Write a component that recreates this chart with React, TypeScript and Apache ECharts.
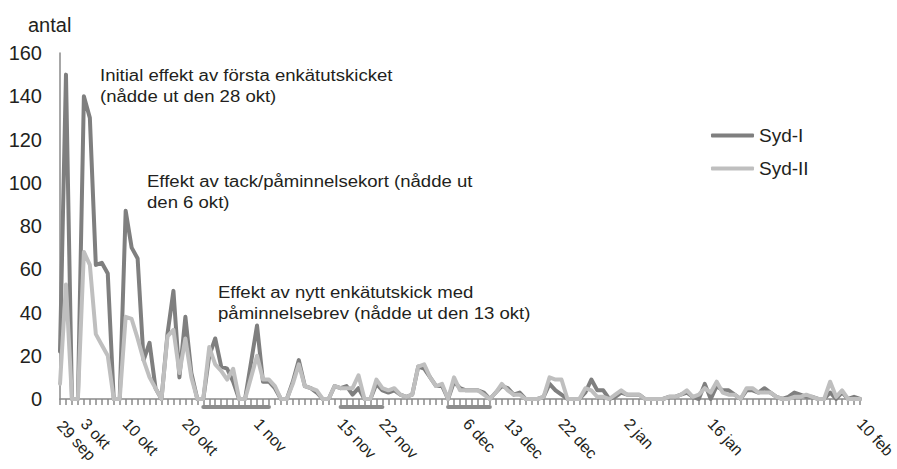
import React, { useEffect, useRef } from "react";
import * as echarts from "echarts";

const MONTHS = ["jan", "feb", "mar", "apr", "maj", "jun", "jul", "aug", "sep", "okt", "nov", "dec"];
const FIRST_DAY = { year: 2010, month: 8, day: 29 };
const DAY_COUNT = 135;

const tickLabels = ["29 sep", "3 okt", "10 okt", "20 okt", "1 nov", "15 nov", "22 nov", "6 dec", "13 dec", "22 dec", "2 jan", "16 jan", "10 feb"];

const sydI = [
  22, 150, 0, 0, 140, 130, 62, 63, 58, 0,
  0, 87, 70, 65, 18, 26, 5, 0, 30, 50,
  10, 38, 12, 0, 0, 20, 28, 15, 14, 8,
  0, 0, 17, 34, 8, 8, 5, 0, 0, 8,
  18, 6, 5, 3, 0, 0, 6, 5, 6, 2,
  5, 0, 0, 7, 4, 3, 4, 2, 1, 2,
  15, 14, 10, 6, 6, 0, 8, 5, 4, 4,
  4, 3, 0, 3, 6, 5, 2, 3, 0, 0,
  0, 1, 7, 4, 2, 0, 0, 0, 3, 9,
  4, 4, 0, 1, 3, 2, 2, 2, 0, 0,
  0, 0, 1, 1, 2, 3, 1, 0, 7, 0,
  6, 4, 4, 2, 0, 4, 4, 3, 5, 3,
  1, 0, 1, 3, 2, 1, 1, 0, 0, 3,
  0, 3, 0, 1, 0,
];

const sydII = [
  7, 53, 0, 0, 68, 62, 30, 25, 20, 0,
  0, 38, 37, 28, 18, 10, 5, 0, 29, 32,
  12, 28, 10, 0, 0, 24, 16, 13, 9, 14,
  0, 0, 10, 20, 9, 9, 6, 0, 0, 7,
  16, 6, 5, 4, 0, 0, 6, 5, 5, 5,
  11, 0, 0, 9, 5, 4, 5, 2, 1, 2,
  15, 16, 10, 6, 7, 0, 10, 4, 4, 4,
  4, 2, 0, 3, 7, 4, 2, 2, 0, 0,
  0, 1, 10, 9, 9, 0, 0, 0, 5, 4,
  1, 1, 0, 2, 4, 2, 2, 2, 0, 0,
  0, 0, 1, 1, 2, 4, 1, 2, 5, 3,
  8, 3, 2, 2, 0, 5, 5, 3, 3, 3,
  1, 0, 0, 1, 1, 2, 1, 0, 0, 8,
  1, 4, 0, 0, 0,
];

const periods = [
  ["23 okt", "3 nov"],
  ["15 nov", "22 nov"],
  ["3 dec", "10 dec"],
];

const annotations = [
  { lines: ["Initial effekt av första enkätutskicket", "(nådde ut den 28 okt)"], left: 100, top: 65 },
  { lines: ["Effekt av tack/påminnelsekort (nådde ut", "den 6 okt)"], left: 147, top: 171 },
  { lines: ["Effekt av nytt enkätutskick med", "påminnelsebrev (nådde ut den 13 okt)"], left: 218, top: 282 },
];

function buildDays(): string[] {
  const out: string[] = [];
  for (let i = 0; i < DAY_COUNT; i++) {
    const d = new Date(FIRST_DAY.year, FIRST_DAY.month, FIRST_DAY.day + i);
    out.push(`${d.getDate()} ${MONTHS[d.getMonth()]}`);
  }
  return out;
}

const FONT = "'Liberation Sans', Arial, Helvetica, sans-serif";
const TEXT = "#231f20";

export default function App() {
  const ref = useRef<HTMLDivElement>(null);
  useEffect(() => {
    if (!ref.current) return;
    const chart = echarts.init(ref.current, undefined, { renderer: "svg" });
    const days = buildDays();
    const labelStyle = {
      rotate: -47,
      hideOverlap: false,
      fontFamily: FONT,
      fontSize: 16,
      color: TEXT,
    };
    chart.setOption({
      animation: false,
      backgroundColor: "#ffffff",
      title: {
        text: "antal",
        left: 23,
        top: 10,
        textStyle: { fontFamily: FONT, fontSize: 20, fontWeight: "normal", color: TEXT },
      },
      legend: {
        orient: "vertical",
        left: 706,
        top: 121,
        icon: "roundRect",
        itemWidth: 43,
        itemHeight: 4,
        itemGap: 14,
        textStyle: { fontFamily: FONT, fontSize: 19, color: TEXT },
        data: ["Syd-I", "Syd-II"],
      },
      grid: { left: 60, right: 37, top: 53, bottom: 70, containLabel: false, outerBoundsMode: "none" },
      xAxis: [
        {
          type: "category",
          position: "bottom",
          data: days,
          boundaryGap: false,
          axisLine: { show: true, onZero: false, lineStyle: { color: "#8a8a8a", width: 1.5 } },
          axisTick: { show: true, inside: false, interval: 0, length: 6, lineStyle: { color: "#8a8a8a", width: 1.5 } },
          axisLabel: {
            ...labelStyle,
            interval: (idx: number, val: string) => val !== tickLabels[0] && tickLabels.includes(val),
            margin: 22,
          },
          splitLine: { show: false },
        },
        {
          type: "category",
          position: "bottom",
          data: days,
          boundaryGap: false,
          axisLine: { show: false },
          axisTick: { show: false },
          axisLabel: {
            ...labelStyle,
            interval: (idx: number, val: string) => val === tickLabels[0],
            showMinLabel: true,
            margin: 24,
          },
          splitLine: { show: false },
        },
      ],
      yAxis: {
        type: "value",
        min: 0,
        max: 160,
        interval: 20,
        axisLine: { show: true, lineStyle: { color: "#8a8a8a", width: 1.5 } },
        axisTick: { show: false },
        splitLine: { show: false },
        axisLabel: { margin: 18, fontFamily: FONT, fontSize: 20, color: TEXT },
      },
      series: [
        {
          name: "Syd-I",
          type: "line",
          xAxisIndex: 0,
          data: sydI,
          symbol: "none",
          lineStyle: { color: "#7f7f7f", width: 4, join: "round", cap: "round" },
          itemStyle: { color: "#7f7f7f" },
        },
        {
          name: "Syd-II",
          type: "line",
          xAxisIndex: 0,
          data: sydII,
          symbol: "none",
          lineStyle: { color: "#bfbfbf", width: 4, join: "round", cap: "round" },
          itemStyle: { color: "#bfbfbf" },
        },
      ],
    });

    const graphics: any[] = [];
    annotations.forEach((a, i) => {
      graphics.push({
        type: "text",
        id: "ann" + i,
        x: a.left,
        y: a.top,
        scaleX: 1.16,
        style: {
          text: a.lines.join("\n"),
          fontFamily: FONT,
          fontSize: 16,
          lineHeight: 21,
          fill: TEXT,
          align: "left",
          verticalAlign: "top",
        },
      });
    });
    periods.forEach((p, i) => {
      const a = chart.convertToPixel({ gridIndex: 0 }, [p[0], 0]) as number[];
      const b = chart.convertToPixel({ gridIndex: 0 }, [p[1], 0]) as number[];
      if (!a || !b) return;
      graphics.push({
        type: "line",
        id: "per" + i,
        shape: { x1: a[0], y1: a[1] + 8, x2: b[0], y2: b[1] + 8 },
        style: { stroke: "#8c8c8c", lineWidth: 4, lineCap: "round" },
        z: 10,
      });
    });
    chart.setOption({ graphic: graphics });

    return () => chart.dispose();
  }, []);
  return <div ref={ref} style={{ position: "absolute", left: 0, top: 0, width: 897, height: 469 }} />;
}
